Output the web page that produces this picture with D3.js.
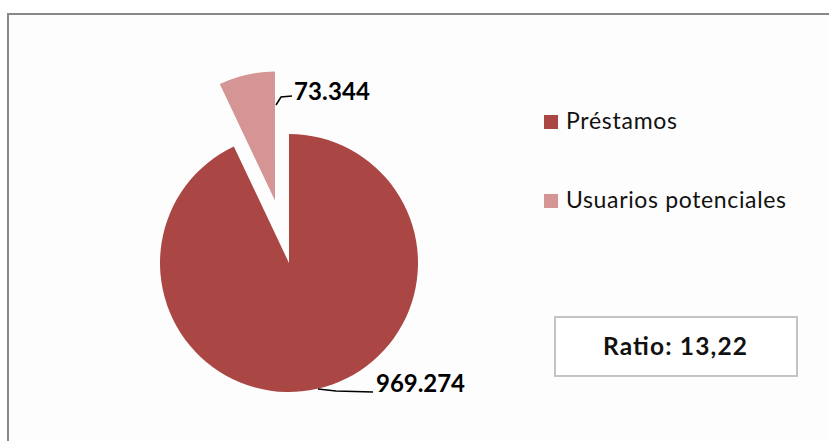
<!DOCTYPE html>
<html><head><meta charset="utf-8">
<script src="https://cdn.jsdelivr.net/npm/d3@7"></script>
<style>body{margin:0;background:#fff}svg{display:block}</style>
</head><body>
<script>
const categories = ["Préstamos", "Usuarios potenciales"];
const values = [969274, 73344];
const valueLabels = ["969.274", "73.344"];
const colors = ["#AA4643", "#D59594"];
const ratioText = "Ratio: 13,22";

const W = 829, H = 441;
const svg = d3.select("body").append("svg").attr("width", W).attr("height", H);
svg.append("rect").attr("x", 8).attr("y", 14).attr("width", W).attr("height", H)
  .attr("fill", "#fdfdfd").attr("stroke", "#888").attr("stroke-width", 2);

const cx = 289, cy = 263, R = 129;
const font = "Lato, 'Open Sans', sans-serif";
const data = categories.map((c, i) => ({c, v: values[i], label: valueLabels[i], color: colors[i]}));
const pie = d3.pie().value(d => d.v).sort(null);
const arcs = pie(data);
const arc = d3.arc().innerRadius(0).outerRadius(R);
const g = svg.append("g").attr("transform", `translate(${cx},${cy})`);
const explode = [0, 64];
arcs.forEach((a, i) => {
  const mid = (a.startAngle + a.endAngle) / 2;
  const dx = Math.sin(mid) * explode[i], dy = -Math.cos(mid) * explode[i];
  g.append("path").attr("d", arc(a)).attr("fill", a.data.color)
    .attr("transform", `translate(${dx},${dy})`);
});

// labels with leader lines
svg.append("path").attr("d", "M276,105 L281,97 L292,96").attr("fill", "none").attr("stroke", "#000").attr("stroke-width", 1.5);
svg.append("text").attr("x", 294).attr("y", 100).attr("font-family", font).attr("font-weight", "bold")
  .attr("font-size", 24).attr("fill", "#000").attr("textLength", 76).attr("lengthAdjust", "spacing").text(data[1].label);
svg.append("path").attr("d", "M318,389 L336,391 L373,392").attr("fill", "none").attr("stroke", "#000").attr("stroke-width", 1.5);
svg.append("text").attr("x", 376).attr("y", 392).attr("font-family", font).attr("font-weight", "bold")
  .attr("font-size", 24).attr("fill", "#000").attr("textLength", 89).attr("lengthAdjust", "spacing").text(data[0].label);

// legend
const legLen = [111, 220];
const leg = svg.append("g");
data.forEach((d, i) => {
  const y = 115 + i * 79;
  leg.append("rect").attr("x", 544).attr("y", y).attr("width", 14).attr("height", 14).attr("fill", d.color);
  leg.append("text").attr("x", 566).attr("y", y + 13.5).attr("font-family", font).attr("font-size", 23)
    .attr("fill", "#111").attr("textLength", legLen[i]).attr("lengthAdjust", "spacing").text(d.c);
});

// ratio box
svg.append("rect").attr("x", 555).attr("y", 317).attr("width", 242).attr("height", 59)
  .attr("fill", "#fff").attr("stroke", "#c4c4c4").attr("stroke-width", 2);
svg.append("text").attr("x", 603).attr("y", 355).attr("font-family", font)
  .attr("font-weight", "bold").attr("font-size", 24.5).attr("fill", "#111")
  .attr("textLength", 144).attr("lengthAdjust", "spacing").text(ratioText);
</script>
</body></html>
